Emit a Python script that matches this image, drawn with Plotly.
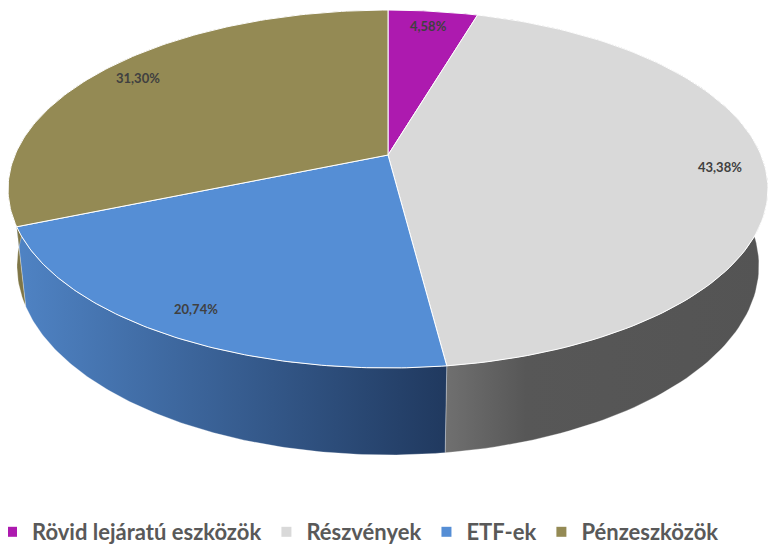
import numpy as np
import plotly.graph_objects as go

# ---- data ----
categories = ["Rövid lejáratú eszközök", "Részvények", "ETF-ek", "Pénzeszközök"]
values = [4.58, 43.38, 20.74, 31.30]
value_labels = ["4,58%", "43,38%", "20,74%", "31,30%"]

# ---- styles ----
top_colors = ["#AD1AAF", "#D9D9D9", "#558ED5", "#948A54"]
side_scales = [
    [[0, "#8a1590"], [1, "#6a0f70"]],
    [[0, "#707070"], [0.25, "#575757"], [1, "#545454"]],
    [[0, "#4f83c4"], [1, "#20395f"]],
    [[0, "#7f7646"], [1, "#6f6840"]],
]

# ---- 3D perspective geometry (pixel space of the figure) ----
W, H = 778, 544
BOTTOM = 40            # strip below the plot area that holds the legend
PH = H - BOTTOM        # plot area height in pixels
cx, cy = 380, 147
f = 1742.0
D = 4.67
sinA, cosA = 0.4625, 0.887
thick = 0.234
label_r = 0.88


def proj(X, Y, Z):
    depth = D + Y * cosA - Z * sinA
    return cx + f * X / depth, cy - f * (Y * sinA + Z * cosA) / depth


total = sum(values)
bounds = np.concatenate([[0], np.cumsum(values)]) / total * 2 * np.pi

fig = go.Figure()

# side walls
for i in range(len(values)):
    t = np.linspace(bounds[i], bounds[i + 1], 120)
    xt, yt = proj(np.sin(t), np.cos(t), 0.0)
    xb, yb = proj(np.sin(t), np.cos(t), -thick)
    xs = np.concatenate([xt, xb[::-1], xt[:1]])
    ys = np.concatenate([yt, yb[::-1], yt[:1]])
    fig.add_trace(go.Scatter(
        x=xs, y=ys, mode="lines", fill="toself",
        line=dict(width=0.6, color="rgba(255,255,255,0.5)"),
        fillgradient=dict(type="horizontal", colorscale=side_scales[i]),
        hoverinfo="skip", showlegend=False))

# top faces
for i in range(len(values)):
    t = np.linspace(bounds[i], bounds[i + 1], 120)
    xt, yt = proj(np.sin(t), np.cos(t), 0.0)
    x0, y0 = proj(0.0, 0.0, 0.0)
    xs = np.concatenate([[x0], xt, [x0]])
    ys = np.concatenate([[y0], yt, [y0]])
    fig.add_trace(go.Scatter(
        x=xs, y=ys, mode="lines", fill="toself", fillcolor=top_colors[i],
        line=dict(width=1, color="white"),
        hoverinfo="skip", showlegend=False))

# labels
for i in range(len(values)):
    m = (bounds[i] + bounds[i + 1]) / 2
    lx, ly = proj(label_r * np.sin(m), label_r * np.cos(m), 0.0)
    fig.add_annotation(x=lx, y=ly, text=value_labels[i], showarrow=False,
                       font=dict(family="Lato", size=13, color="#404040", weight="bold"))

# legend entries
for i, name in enumerate(categories):
    fig.add_trace(go.Scatter(
        x=[None], y=[None], mode="markers", name=name,
        marker=dict(symbol="square", size=10, color=top_colors[i])))

fig.update_layout(
    width=W, height=H,
    margin=dict(l=0, r=0, t=0, b=BOTTOM, autoexpand=False),
    paper_bgcolor="white", plot_bgcolor="white",
    xaxis=dict(range=[0, W], visible=False, fixedrange=True),
    yaxis=dict(range=[PH, 0], visible=False, fixedrange=True),
    showlegend=True,
    legend=dict(orientation="h", x=-16 / W, xanchor="left",
                y=-(524 - PH) / PH, yanchor="middle",
                font=dict(family="Lato", size=22, color="#595959", weight="bold"),
                itemwidth=30, traceorder="normal"),
)

fig.write_html("out.html")
